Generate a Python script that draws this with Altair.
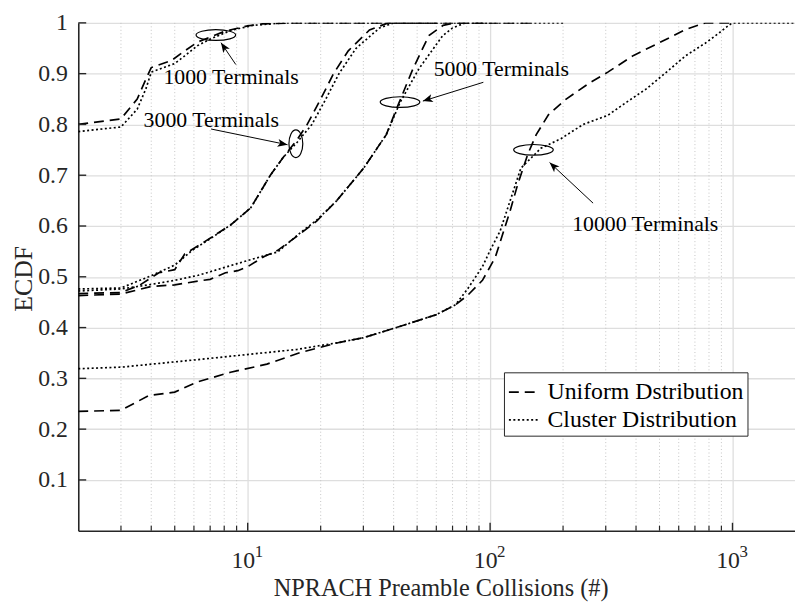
import math
import altair as alt
import pandas as pd

# ---------------- data ----------------
u1000_x = [2, 3, 3.5, 3.8, 4, 4.85, 5.5, 6.2, 7, 8.1, 10, 11.5, 15, 60]
u1000_p = [0.80, 0.811, 0.85, 0.889, 0.912, 0.926, 0.945, 0.962, 0.972, 0.984, 0.994, 0.998, 1.0, 1.0]
c1000_x = [2, 3, 3.5, 3.8, 4, 5, 5.5, 6.2, 7, 8.5, 10.5, 14, 60]
c1000_p = [0.786, 0.795, 0.83, 0.87, 0.903, 0.92, 0.935, 0.955, 0.968, 0.985, 0.995, 1.0, 1.0]

u3000_x = [2, 3, 3.6, 4.3, 5, 5.5, 6.1, 7.1, 8.5, 10.3, 12.4, 14, 16, 17.6, 20, 22.6, 26, 31.8, 38, 100]
u3000_p = [0.467, 0.469, 0.484, 0.508, 0.514, 0.545, 0.558, 0.578, 0.602, 0.636, 0.70, 0.735, 0.77,
           0.80, 0.85, 0.90, 0.945, 0.986, 1.0, 1.0]
c3000_x = [2, 3, 3.9, 5, 5.9, 7, 8.5, 10.3, 12.4, 14, 16, 18.4, 21, 23.8, 28, 35, 40, 100]
c3000_p = [0.476, 0.478, 0.50, 0.523, 0.552, 0.575, 0.602, 0.636, 0.70, 0.735, 0.765, 0.80, 0.85,
           0.90, 0.95, 0.99, 1.0, 1.0]

u5000_x = [2, 3, 4, 5, 6.3, 7, 8.1, 9.1, 10, 11.7, 13.3, 16.5, 19.3, 23.3, 30.1, 37.3, 42.2, 48.1,
           55.9, 64, 72, 150]
u5000_p = [0.463, 0.466, 0.481, 0.484, 0.492, 0.495, 0.508, 0.512, 0.52, 0.54, 0.552, 0.585, 0.61,
           0.65, 0.714, 0.78, 0.844, 0.91, 0.975, 0.995, 1.0, 1.0]
c5000_x = [2, 3, 4, 5, 6.25, 10, 13.3, 16.5, 19.3, 23.3, 30.1, 37.3, 42.6, 50.9, 63.8, 70, 79, 200]
c5000_p = [0.472, 0.476, 0.485, 0.493, 0.503, 0.532, 0.549, 0.587, 0.612, 0.65, 0.714, 0.78, 0.844,
           0.91, 0.975, 0.99, 1.0, 1.0]

u10000_x = [2, 3, 3.9, 5, 6.2, 8.5, 12, 16.5, 24, 30, 41, 59.7, 72, 81, 93, 105, 115, 121, 130,
            143, 155, 174, 206, 254, 306, 391, 500, 640, 772, 1000]
u10000_p = [0.235, 0.237, 0.266, 0.273, 0.293, 0.312, 0.328, 0.351, 0.371, 0.38, 0.40, 0.425, 0.445,
            0.464, 0.493, 0.538, 0.597, 0.63, 0.682, 0.741, 0.78, 0.819, 0.85, 0.88, 0.903, 0.936,
            0.961, 0.987, 1.0, 1.0]
c10000_x = [2, 3, 6.25, 16, 24, 30, 41, 59.7, 72, 81, 93, 100, 110, 121, 134, 162, 196, 242, 306,
            366, 441, 531, 640, 772, 880, 970, 1000, 1811]
c10000_p = [0.319, 0.322, 0.337, 0.357, 0.371, 0.38, 0.40, 0.425, 0.445, 0.477, 0.52, 0.552, 0.59,
            0.65, 0.714, 0.753, 0.772, 0.80, 0.818, 0.844, 0.87, 0.902, 0.935, 0.96, 0.98, 0.996,
            1.0, 1.0]

dist_names = ["Uniform Dstribution", "Cluster Distribution"]

y_ticks = [0.1, 0.2, 0.3, 0.4, 0.5, 0.6, 0.7, 0.8, 0.9, 1.0]
x_major = [10, 100, 1000]
x_exponents = ["1", "2", "3"]
x_minor = [3, 4, 5, 6, 7, 8, 9, 20, 30, 40, 50, 60, 70, 80, 90,
           200, 300, 400, 500, 600, 700, 800, 900]

ann_labels = ["1000 Terminals", "3000 Terminals", "5000 Terminals", "10000 Terminals"]
ann_text_x = [4.49, 3.72, 58.5, 218]
ann_text_p = [0.879, 0.795, 0.895, 0.591]
ell_x = [7.39, 15.8, 42.5, 151]
ell_p = [0.976, 0.762, 0.844, 0.750]
ell_vertical = [False, True, False, False]
arr_tail_x = [8.93, 7.06, 93.8, 266]
arr_tail_p = [0.918, 0.791, 0.883, 0.645]
arr_tip_x = [7.76, 14.6, 52.8, 176]
arr_tip_p = [0.961, 0.760, 0.846, 0.725]

# ---------------- layout ----------------
W, H = 724, 513
XMIN, XMAX = 2, 1811
FONT = "Liberation Serif"
AX = "#262626"

rows = []
for term, ux, up, cx, cp in [
    ("1000", u1000_x, u1000_p, c1000_x, c1000_p),
    ("3000", u3000_x, u3000_p, c3000_x, c3000_p),
    ("5000", u5000_x, u5000_p, c5000_x, c5000_p),
    ("10000", u10000_x, u10000_p, c10000_x, c10000_p),
]:
    for x, p in zip(ux, up):
        rows.append({"x": x, "p": p, "dist": dist_names[0], "series": term + "u"})
    for x, p in zip(cx, cp):
        rows.append({"x": x, "p": p, "dist": dist_names[1], "series": term + "c"})
df = pd.DataFrame(rows)

xs = alt.Scale(type="log", domain=[XMIN, XMAX], nice=False)
ys = alt.Scale(domain=[0, 1], nice=False, zero=False)

XTITLE = "NPRACH Preamble Collisions (#)"
YTITLE = "ECDF"
xaxis = alt.Axis(values=x_major, labelExpr="'10'", labelAlign="right", labelOffset=7,
                 labelBaseline="alphabetic", labelPadding=37, ticks=False, tickSize=0,
                 grid=True, gridColor="#dedede", gridWidth=1.3,
                 domainColor=AX, domainWidth=1.6, labelFont=FONT, labelFontSize=24,
                 labelColor=AX, labelFlush=False, labelOverlap=False,
                 titleFont=FONT, titleFontSize=24.5, titleFontWeight="normal",
                 titleColor=AX, titleX=366, titleY=65, titleBaseline="alphabetic",
                 titleAlign="center")
yaxis = alt.Axis(values=y_ticks,
                 labelExpr="datum.value > 0.999 ? '1' : format(datum.value, '.1f')",
                 ticks=False, tickSize=0, labelPadding=11, grid=True,
                 gridColor="#dedede", gridWidth=1.3, domainColor=AX, domainWidth=1.6,
                 labelFont=FONT, labelFontSize=24, labelColor=AX,
                 labelFlush=False, labelOverlap=False,
                 titleFont=FONT, titleFontSize=26, titleFontWeight="normal",
                 titleColor=AX, titleX=-47, titleY=258, titleAngle=270,
                 titleBaseline="alphabetic", titleAlign="center")


def X(field):
    return alt.X(field, scale=xs, axis=xaxis, title=XTITLE)


def Y(field):
    return alt.Y(field, scale=ys, axis=yaxis, title=YTITLE)


def px(v):
    return W * (math.log10(v) - math.log10(XMIN)) / (math.log10(XMAX) - math.log10(XMIN))


def py(p):
    return H * (1 - p)


lines = alt.Chart(df).mark_line(clip=True, color="black", strokeWidth=1.7).encode(
    x=X("x:Q"),
    y=Y("p:Q"),
    strokeDash=alt.StrokeDash(
        "dist:N",
        scale=alt.Scale(domain=dist_names, range=[[10, 6], [2, 2.5]]),
        legend=alt.Legend(orient="none", legendX=430, legendY=353, title=None,
                          fillColor="white", strokeColor=AX, padding=4,
                          symbolType="stroke", symbolSize=900, symbolStrokeWidth=1.7,
                          symbolStrokeColor="black", labelFont=FONT, labelFontSize=24,
                          labelColor="black", labelOffset=8, rowPadding=0, labelLimit=0),
    ),
    detail="series:N",
)

minor_df = pd.DataFrame({"x": x_minor})
minor_grid = alt.Chart(minor_df).mark_rule(color="#c4c4c4", strokeWidth=1, strokeDash=[1, 2.5]).encode(
    x=X("x:Q"), y=alt.value(0), y2=alt.value(H))
minor_ticks = alt.Chart(minor_df).mark_rule(color=AX, strokeWidth=1.2).encode(
    x=X("x:Q"), y=alt.value(H), y2=alt.value(H - 5))

major_df = pd.DataFrame({"x": x_major, "e": x_exponents})
major_ticks = alt.Chart(major_df).mark_rule(color=AX, strokeWidth=1.4).encode(
    x=X("x:Q"), y=alt.value(H), y2=alt.value(H - 8))
exps = alt.Chart(major_df).mark_text(font=FONT, fontSize=17, color=AX, align="left",
                                     baseline="alphabetic", dx=7).encode(
    x=X("x:Q"), y=alt.value(H + 27), text="e:N")

yt_df = pd.DataFrame({"p": y_ticks})
y_tk = alt.Chart(yt_df).mark_rule(color=AX, strokeWidth=1.4).encode(
    y=Y("p:Q"), x=alt.value(0), x2=alt.value(8))

ann_df = pd.DataFrame({
    "label": ann_labels, "tx": ann_text_x, "tp": ann_text_p,
    "ex": ell_x, "ep": ell_p, "vert": ell_vertical,
    "ax1": arr_tail_x, "ap1": arr_tail_p, "ax2": arr_tip_x, "ap2": arr_tip_p,
})
ann_df["ang"] = [
    math.degrees(math.atan2(px(b) - px(a), -(py(d) - py(c)))) % 360
    for a, c, b, d in zip(arr_tail_x, arr_tail_p, arr_tip_x, arr_tip_p)
]

texts = alt.Chart(ann_df).mark_text(font=FONT, fontSize=22, color="black", align="left",
                                    baseline="alphabetic").encode(
    x=X("tx:Q"), y=Y("tp:Q"), text="label:N")

H_ELL = "M-1,0 A1,0.27 0 1,0 1,0 A1,0.27 0 1,0 -1,0 Z"
V_ELL = "M0,-1 A0.5,1 0 1,0 0,1 A0.5,1 0 1,0 0,-1 Z"
ell_h = alt.Chart(ann_df).transform_filter("!datum.vert").mark_point(
    shape=H_ELL, size=1600, filled=False, stroke="black", strokeWidth=1.2, opacity=1).encode(
    x=X("ex:Q"), y=Y("ep:Q"))
ell_v = alt.Chart(ann_df).transform_filter("datum.vert").mark_point(
    shape=V_ELL, size=784, filled=False, stroke="black", strokeWidth=1.2, opacity=1).encode(
    x=X("ex:Q"), y=Y("ep:Q"))

arrows = alt.Chart(ann_df).mark_rule(color="black", strokeWidth=1).encode(
    x=X("ax1:Q"), y=Y("ap1:Q"), x2="ax2:Q", y2="ap2:Q")
HEAD = "M0,0 L0.8,2 L0,1.5 L-0.8,2 Z"
heads = alt.Chart(ann_df).mark_point(shape=HEAD, size=100, filled=True, fill="black",
                                     strokeWidth=0, opacity=1).encode(
    x=X("ax2:Q"), y=Y("ap2:Q"),
    angle=alt.Angle("ang:Q", scale=None))

chart = alt.layer(
    minor_grid, lines, minor_ticks, major_ticks, y_tk, exps,
    ell_h, ell_v, arrows, heads, texts,
).properties(
    width=W, height=H,
    autosize=alt.AutoSizeParams(type="none"),
    padding={"left": 71, "top": 12, "right": 0, "bottom": 70},
    background="white",
).configure_view(stroke=None)

chart.save("out.html", embed_options={"renderer": "svg", "actions": False})
